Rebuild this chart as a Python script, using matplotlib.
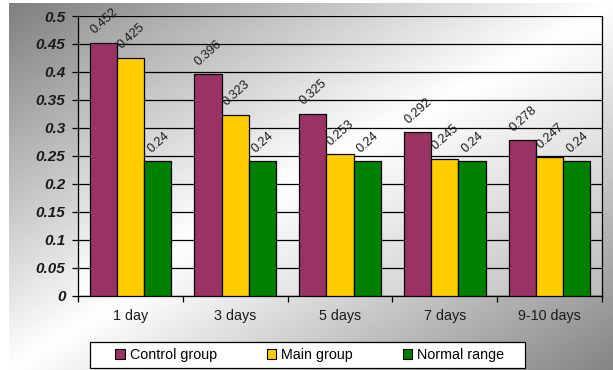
import numpy as np
import matplotlib
matplotlib.use("Agg")
import matplotlib.pyplot as plt
from matplotlib import font_manager
from matplotlib.patches import Patch, Rectangle

plt.rcParams['font.family'] = ['Liberation Sans', 'DejaVu Sans']

categories = ["1 day", "3 days", "5 days", "7 days", "9-10 days"]
control_group = [0.452, 0.396, 0.325, 0.292, 0.278]
main_group = [0.425, 0.323, 0.253, 0.245, 0.247]
normal_range = [0.24, 0.24, 0.24, 0.24, 0.24]
series_names = ["Control group", "Main group", "Normal range"]
series_colors = ["#993366", "#FFCC00", "#008000"]
y_ticks = [0, 0.05, 0.1, 0.15, 0.2, 0.25, 0.3, 0.35, 0.4, 0.45, 0.5]

W, H = 613, 370
fig = plt.figure(figsize=(W / 100, H / 100), dpi=100)
fig.patch.set_facecolor("white")


def bold_italic_font(size):
    """Pick a sans family that really ships a bold-italic face."""
    for fam in ["Liberation Sans", "Arimo", "Roboto", "Open Sans", "Lato", "DejaVu Sans"]:
        fp = font_manager.FontProperties(family=fam, weight="bold", style="italic", size=size)
        try:
            path = font_manager.findfont(fp, fallback_to_default=False)
        except Exception:
            continue
        name = path.lower().replace("-", "").replace("_", "")
        if "bolditalic" in name or "boldoblique" in name:
            return font_manager.FontProperties(fname=path, size=size)
    return font_manager.FontProperties(family="DejaVu Sans", weight="bold",
                                       style="italic", size=size)


def diag_gradient(n, lo_start, lo_end):
    """Diagonal grey ramp: dark top-left -> white middle -> grey bottom-right.
    Row 0 is the top edge."""
    yy, xx = np.mgrid[0:n, 0:n] / (n - 1)
    t = (xx + yy) / 2.0
    return np.where(t < 0.5, 1 - (1 - lo_start) * (1 - 2 * t),
                    1 - (1 - lo_end) * (2 * t - 1))


# figure background
bg = fig.add_axes([9 / W, 0, 1 - 9 / W, 1 - 3 / H], zorder=-10)
bg.imshow(diag_gradient(300, 0.50, 0.52), cmap="gray", vmin=0, vmax=1,
          aspect="auto", origin="upper", interpolation="bilinear")
bg.axis("off")

# plot area
left, right, top, bottom = 78, 602, 16, 295.5
ax = fig.add_axes([left / W, 1 - bottom / H, (right - left) / W, (bottom - top) / H])
ax.set_facecolor("none")
ax.imshow(diag_gradient(300, 0.62, 0.74), cmap="gray", vmin=0, vmax=1,
          aspect="auto", extent=[-0.5, 4.5, 0, 0.5], origin="upper",
          interpolation="bilinear", zorder=0)

x = np.arange(len(categories))
bw = 0.26
all_series = [control_group, main_group, normal_range]
for i, (vals, name, col) in enumerate(zip(all_series, series_names, series_colors)):
    pos = x + (i - 1) * bw
    ax.bar(pos, vals, width=bw, color=col, edgecolor="black", linewidth=0.9,
           label=name, zorder=3)
    for p, v in zip(pos, vals):
        ax.annotate(f"{v:g}", xy=(p, v), xytext=(0.5, 4.5),
                    textcoords="offset points", rotation=42,
                    ha="center", va="bottom",
                    fontsize=9.2, color="#1a1a1a", zorder=4)

ax.set_xlim(-0.5, 4.5)
ax.set_ylim(0, 0.5)
ax.set_yticks(y_ticks)
ax.set_yticklabels([f"{t:g}" for t in y_ticks],
                   fontproperties=bold_italic_font(11), color="#1a1a1a")
ax.set_xticks(x)
ax.set_xticklabels(categories, fontsize=10.3, color="#1a1a1a")
ax.set_xticks(np.arange(-0.5, 5, 1), minor=True)
ax.tick_params(axis="x", which="major", length=0, pad=10)
ax.tick_params(axis="x", which="minor", length=4, width=0.9, direction="out")
ax.tick_params(axis="y", length=4, width=0.9, pad=5)
ax.grid(axis="y", color="black", linewidth=0.9, zorder=1)
ax.set_axisbelow(True)
for s in ax.spines.values():
    s.set_color("black")
    s.set_linewidth(0.9)
ax.spines["top"].set_visible(False)

# legend box
fig.patches.append(Rectangle((90 / W, 1 - 368 / H), 435 / W, 26 / H,
                             transform=fig.transFigure, facecolor="white",
                             edgecolor="black", linewidth=0.9, zorder=5))
handles = [Patch(facecolor=c, edgecolor="black", linewidth=0.8) for c in series_colors]
leg = fig.legend(handles, series_names, loc="center",
                 bbox_to_anchor=(310 / W, 1 - 355 / H), ncol=3, fontsize=10.3,
                 frameon=False, handlelength=0.65, handleheight=0.65,
                 handletextpad=0.35, columnspacing=3.5, borderpad=0.2)
leg.set_zorder(6)

fig.savefig("out.png", dpi=100)
